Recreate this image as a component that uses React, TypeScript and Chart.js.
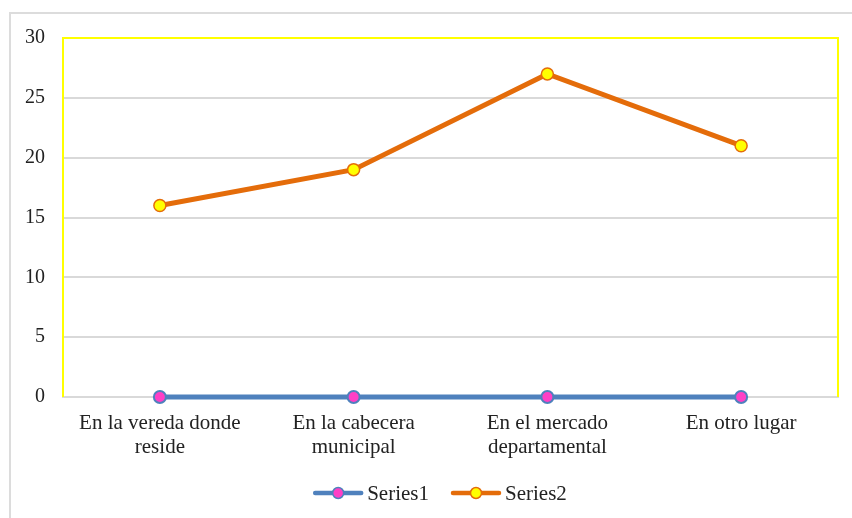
import React, { useEffect, useRef } from "react";
import { Chart, registerables } from "chart.js";

Chart.register(...registerables);

const categories: (string | string[])[] = [
  ["En la vereda donde", "reside"],
  ["En la cabecera", "municipal"],
  ["En el mercado", "departamental"],
  "En otro lugar",
];
const seriesNames = ["Series1", "Series2"];
const series1 = [0, 0, 0, 0];
const series2 = [16, 19, 27, 21];
const yMin = 0;
const yMax = 30;
const yStep = 5;

const FONT = "'Liberation Serif', 'Times New Roman', serif";
const BLUE = "#4F81BD";
const PINK = "#FF3FC6";
const ORANGE = "#E46C0A";
const YELLOW = "#FFFF00";
const GRID = "#D9D9D9";

const frameColors = [
  { line: BLUE, fill: PINK },
  { line: ORANGE, fill: YELLOW },
];

const yellowFrame = {
  id: "yellowFrame",
  beforeDatasetsDraw(chart: any) {
    const { ctx, chartArea } = chart;
    const { left, right, top, bottom } = chartArea;
    ctx.save();
    ctx.strokeStyle = YELLOW;
    ctx.lineWidth = 2;
    ctx.beginPath();
    ctx.moveTo(left, bottom);
    ctx.lineTo(left, top);
    ctx.lineTo(right, top);
    ctx.lineTo(right, bottom);
    ctx.stroke();
    ctx.restore();
  },
};

const customLegend = {
  id: "customLegend",
  afterDraw(chart: any) {
    const { ctx } = chart;
    ctx.save();
    ctx.font = `21px ${FONT}`;
    ctx.textBaseline = "middle";
    const lineLen = 50;
    const gapText = 4;
    const gapItems = 22;
    const widths = seriesNames.map((n) => ctx.measureText(n).width);
    const total =
      widths.reduce((a, w) => a + lineLen + gapText + w, 0) + gapItems * (seriesNames.length - 1);
    let x = 440 - total / 2;
    const y = 493;
    seriesNames.forEach((name, i) => {
      const c = frameColors[i];
      ctx.strokeStyle = c.line;
      ctx.lineWidth = 4.5;
      ctx.lineCap = "round";
      ctx.beginPath();
      ctx.moveTo(x + 2, y);
      ctx.lineTo(x + lineLen - 2, y);
      ctx.stroke();
      ctx.beginPath();
      ctx.arc(x + lineLen / 2, y, 5.5, 0, Math.PI * 2);
      ctx.fillStyle = c.fill;
      ctx.fill();
      ctx.lineWidth = 1.5;
      ctx.strokeStyle = c.line;
      ctx.stroke();
      ctx.fillStyle = "#222";
      ctx.textAlign = "left";
      ctx.fillText(name, x + lineLen + gapText, y + 1);
      x += lineLen + gapText + widths[i] + gapItems;
    });
    ctx.restore();
  },
};

export default function App() {
  const ref = useRef<HTMLCanvasElement>(null);
  useEffect(() => {
    if (!ref.current) return;
    const chart = new Chart(ref.current, {
      type: "line",
      data: {
        labels: categories,
        datasets: [
          {
            label: seriesNames[0],
            data: series1,
            borderColor: BLUE,
            backgroundColor: PINK,
            borderWidth: 5,
            pointRadius: 6,
            pointBorderWidth: 2,
            pointBackgroundColor: PINK,
            pointBorderColor: BLUE,
            tension: 0,
            clip: false,
          },
          {
            label: seriesNames[1],
            data: series2,
            borderColor: ORANGE,
            backgroundColor: YELLOW,
            borderWidth: 5,
            pointRadius: 6,
            pointBorderWidth: 1.5,
            pointBackgroundColor: YELLOW,
            pointBorderColor: ORANGE,
            tension: 0,
            clip: false,
          },
        ],
      },
      options: {
        animation: false,
        responsive: false,
        maintainAspectRatio: false,
        layout: { padding: { left: 8, top: 38, right: 14, bottom: 0 } },
        plugins: {
          legend: { display: false },
          tooltip: { enabled: false },
        },
        scales: {
          x: {
            offset: true,
            grid: { display: false, drawTicks: false },
            border: { display: true, color: GRID, width: 2 },
            ticks: {
              color: "#222",
              font: { family: FONT, size: 21, lineHeight: 1.15 },
              padding: 14,
              maxRotation: 0,
              autoSkip: false,
            },
            afterFit(scale: any) {
              scale.height = 121;
            },
          },
          y: {
            min: yMin,
            max: yMax,
            grid: { color: GRID, lineWidth: 2, drawTicks: false },
            border: { display: false },
            ticks: {
              stepSize: yStep,
              color: "#222",
              font: { family: FONT, size: 20 },
              padding: 18,
            },
            afterFit(scale: any) {
              scale.width = 55;
            },
          },
        },
      },
      plugins: [yellowFrame, customLegend],
    });
    return () => chart.destroy();
  }, []);
  return (
    <div style={{ position: "fixed", left: 0, top: 0, width: 852, height: 518, background: "#fff", overflow: "hidden" }}>
      <div
        style={{
          position: "absolute",
          left: 9,
          top: 12,
          width: 900,
          height: 600,
          border: "2px solid #DCDCDC",
          boxSizing: "border-box",
        }}
      />
      <canvas ref={ref} width={852} height={518} style={{ position: "absolute", left: 0, top: 0 }} />
    </div>
  );
}
